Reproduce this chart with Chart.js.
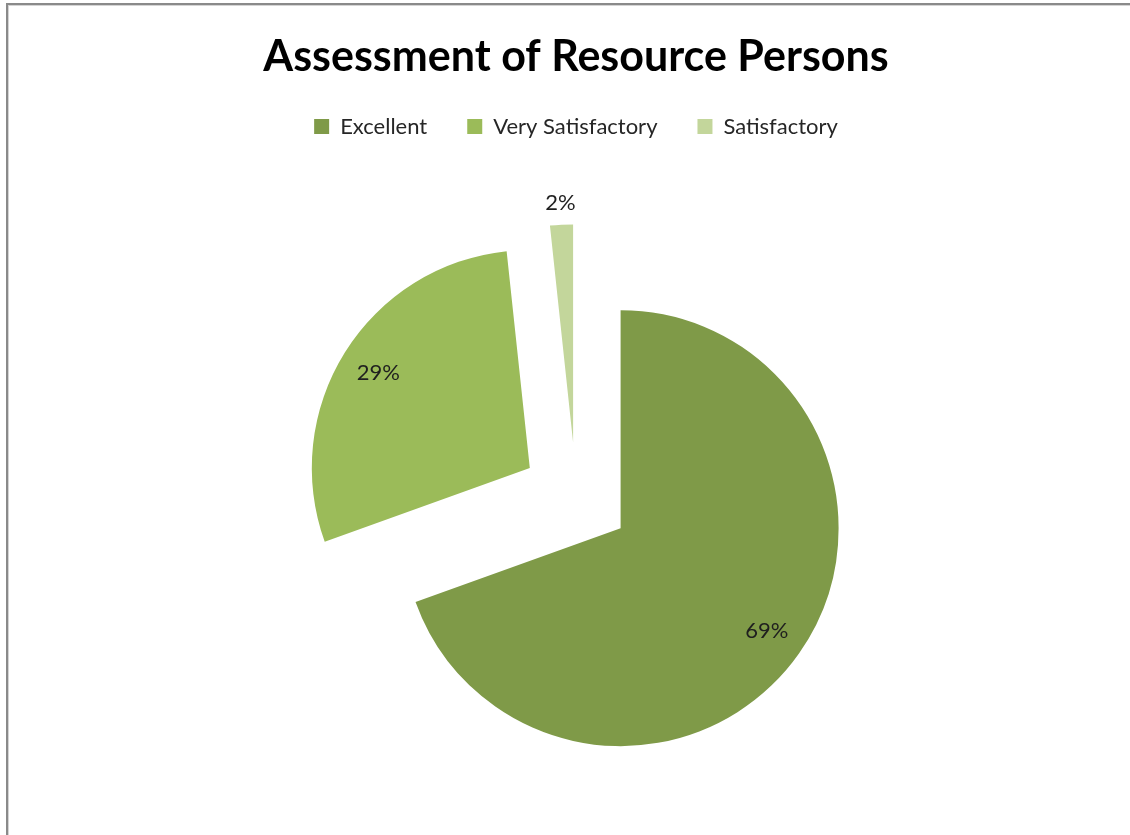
<!DOCTYPE html>
<html>
<head>
<meta charset="utf-8">
<title>Assessment of Resource Persons</title>
<script src="https://cdn.jsdelivr.net/npm/chart.js@4.4.1/dist/chart.umd.min.js"></script>
<style>
    html, body { margin: 0; padding: 0; background: #fff; overflow: hidden; }
    .frame {
        position: absolute; left: 6px; top: 3px; right: 0; bottom: 0;
        border-left: 2px solid #8a8a8a; border-top: 2px solid #8a8a8a;
        box-shadow: inset 1px 1px 0 #d4d4d4;
    }
    .chart-box { position: absolute; left: 0; top: 0; width: 1130px; height: 846px; }
</style>
</head>
<body>
<div class="frame"></div>
<div class="chart-box"><canvas id="chartRecursos"></canvas></div>
<script>
// Respuestas de la evaluación
const categorias = ['Excellent', 'Very Satisfactory', 'Satisfactory'];
const respuestas = [41, 17, 1];
const colores = ['#7f9a48', '#9bbb59', '#c3d69b'];

const EXPLOSION = 0.25;   // separación de cada porción, fracción del radio

function porcentaje(valor) {
    const total = respuestas.reduce((a, b) => a + b, 0);
    return Math.round(valor / total * 100);
}

// Separa las porciones desplazando el centro de cada arco
const explodePlugin = {
    id: 'explode',
    afterDatasetUpdate(chart, args) {
        args.meta.data.forEach(arc => {
            const mid = (arc.startAngle + arc.endAngle) / 2;
            const d = arc.outerRadius * EXPLOSION;
            arc.x += Math.cos(mid) * d;
            arc.y += Math.sin(mid) * d;
        });
    }
};

// Etiquetas de porcentaje sobre cada porción
const etiquetasPlugin = {
    id: 'etiquetas',
    afterDatasetsDraw(chart) {
        const ctx = chart.ctx;
        const meta = chart.getDatasetMeta(0);
        ctx.save();
        ctx.font = '22px Lato';
        ctx.fillStyle = '#1f1f1f';
        ctx.textAlign = 'center';
        ctx.textBaseline = 'middle';
        meta.data.forEach((arc, i) => {
            const mid = (arc.startAngle + arc.endAngle) / 2;
            const pct = porcentaje(respuestas[i]);
            // las porciones pequeñas llevan la etiqueta por fuera
            const r = pct < 5 ? arc.outerRadius + 22 : arc.outerRadius * 0.82;
            ctx.fillText(pct + '%', arc.x + Math.cos(mid) * r, arc.y + Math.sin(mid) * r);
        });
        ctx.restore();
    }
};

new Chart(document.getElementById('chartRecursos'), {
    type: 'pie',
    data: {
        labels: categorias,
        datasets: [{
            data: respuestas,
            backgroundColor: colores,
            borderWidth: 0,
            radius: 218
        }]
    },
    options: {
        responsive: true,
        maintainAspectRatio: false,
        animation: false,
        events: [],
        layout: { padding: { left: 22, right: 0, top: 0, bottom: 0 } },
        plugins: {
            title: {
                display: true,
                text: 'Assessment of Resource Persons',
                color: '#000',
                font: { family: 'Lato', size: 43, weight: 'bold' },
                padding: { top: 31, bottom: -7 }
            },
            legend: {
                position: 'top',
                labels: {
                    color: '#262626',
                    font: { family: 'Lato', size: 22 },
                    boxWidth: 15,
                    boxHeight: 15,
                    padding: 40
                }
            },
            tooltip: { enabled: false }
        }
    },
    plugins: [explodePlugin, etiquetasPlugin]
});
</script>
</body>
</html>
